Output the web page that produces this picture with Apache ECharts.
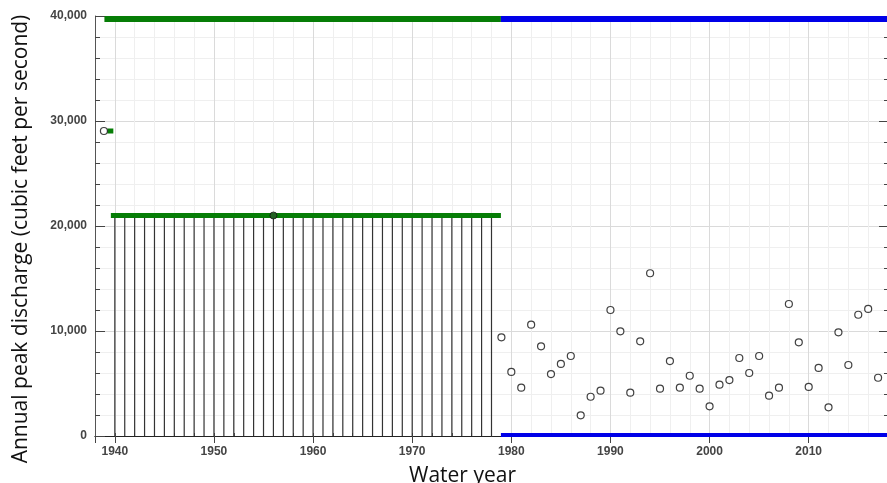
<!DOCTYPE html>
<html>
<head>
<meta charset="utf-8">
<script src="https://cdn.jsdelivr.net/npm/echarts@6/dist/echarts.min.js"></script>
<style>
  html, body { margin: 0; padding: 0; background: #fff; }
  #chart { width: 887px; height: 483px; }
</style>
</head>
<body>
<div id="chart"></div>
<script>
// years 1940-1978: peak known only to be below 21,000 cfs
var belowYears = [1940, 1941, 1942, 1943, 1944, 1945, 1946, 1947, 1948, 1949,
    1950, 1951, 1952, 1953, 1954, 1955, 1956, 1957, 1958, 1959,
    1960, 1961, 1962, 1963, 1964, 1965, 1966, 1967, 1968, 1969,
    1970, 1971, 1972, 1973, 1974, 1975, 1976, 1977, 1978];
var belowValue = 21000;

// measured annual peaks
var peakYears = [1979, 1980, 1981, 1982, 1983, 1984, 1985, 1986, 1987, 1988,
    1989, 1990, 1991, 1992, 1993, 1994, 1995, 1996, 1997, 1998,
    1999, 2000, 2001, 2002, 2003, 2004, 2005, 2006, 2007, 2008,
    2009, 2010, 2011, 2012, 2013, 2014, 2015, 2016, 2017];
var peakValues = [9400, 6100, 4600, 10600, 8540, 5900, 6860, 7620, 1970, 3740,
    4320, 12000, 9970, 4130, 9020, 15500, 4510, 7140, 4600, 5740,
    4510, 2830, 4890, 5330, 7430, 6000, 7620, 3840, 4600, 12570,
    8920, 4670, 6480, 2730, 9870, 6760, 11550, 12100, 5550];

// historic peaks
var historicPeaks = [[1938.9, 29050]];
var thresholdPeak = [[1956, 21000]];

// period bars: [start year, end year, value]
var greenSegments = [[1938.95, 1978.95, 39710], [1939.6, 1978.95, 21000], [1939.25, 1939.85, 29050]];
var blueSegments = [[1978.95, 2018, 39710], [1978.95, 2018, 100]];

var GREEN = '#067d06', BLUE = '#0000e8';
var labelFont = { fontFamily: 'Liberation Sans, Arial', fontWeight: 'bold', fontSize: 12, color: '#444' };

var series = [{
    type: 'bar',
    barWidth: 1.2,
    itemStyle: { color: '#333' },
    data: belowYears.map(function (y) { return [y, belowValue]; }),
    z: 2
}];
function addSegments(list, color) {
    list.forEach(function (s) {
        series.push({
            type: 'line',
            data: [[s[0], s[2]], [s[1], s[2]]],
            symbol: 'none',
            lineStyle: { color: color, width: s[2] > 30000 ? 6 : (s[2] < 1000 ? 4 : 5), cap: 'butt' },
            silent: true,
            z: 3
        });
    });
}
addSegments(greenSegments, GREEN);
addSegments(blueSegments, BLUE);
series.push({
    type: 'scatter',
    symbol: 'circle',
    symbolSize: 7,
    itemStyle: { color: '#fff', borderColor: '#111', borderWidth: 1.2 },
    data: peakYears.map(function (y, i) { return [y, peakValues[i]]; }).concat(historicPeaks),
    z: 5
}, {
    type: 'scatter',
    symbol: 'circle',
    symbolSize: 7,
    itemStyle: { color: '#2a5a2a', borderColor: '#111', borderWidth: 1 },
    data: thresholdPeak,
    z: 5
});

var chart = echarts.init(document.getElementById('chart'));
chart.setOption({
    animation: false,
    grid: { left: 95, top: 16, width: 793, height: 420, outerBoundsMode: 'none' },
    xAxis: [{
        type: 'value', position: 'bottom',
        min: 1938, max: 2018, interval: 2,
        name: 'Water year', nameLocation: 'middle', nameGap: 30,
        nameTextStyle: { fontFamily: 'Open Sans', fontSize: 21, color: '#111', padding: [0, 58, 0, 0] },
        axisLine: { lineStyle: { color: '#555' } },
        axisTick: { inside: true, length: 3, lineStyle: { color: '#555' } },
        axisLabel: Object.assign({ margin: 10, formatter: function (v) { return v % 10 === 0 ? String(v) : ''; } }, labelFont),
        splitLine: { lineStyle: { color: '#efefef' } }
    }, {
        type: 'value', position: 'top',
        min: 1938, max: 2018, splitNumber: 8,
        axisLine: { lineStyle: { color: '#222' } },
        axisTick: { inside: true, length: 7, lineStyle: { color: '#444' } },
        axisLabel: { show: false },
        splitLine: { lineStyle: { color: '#dadada' } }
    }],
    yAxis: [{
        type: 'value', position: 'left',
        min: 0, max: 40000, interval: 10000,
        name: 'Annual peak discharge (cubic feet per second)', nameLocation: 'middle', nameGap: 63,
        nameTextStyle: { fontFamily: 'Open Sans', fontSize: 21, color: '#111', padding: [0, 26, 0, 0] },
        axisLine: { show: true, lineStyle: { color: '#555' } },
        axisTick: { show: true, inside: true, length: 10, lineStyle: { color: '#444' } },
        minorTick: { show: true, splitNumber: 5, length: 5, lineStyle: { color: '#444' } },
        axisLabel: Object.assign({ margin: 8, formatter: function (v) { return v.toLocaleString('en-US'); } }, labelFont),
        splitLine: { lineStyle: { color: '#dadada' } },
        minorSplitLine: { show: true, lineStyle: { color: '#efefef' } }
    }, {
        type: 'value', position: 'right',
        min: 0, max: 40000, interval: 10000,
        axisLine: { show: true, lineStyle: { color: '#555' } },
        axisTick: { show: true, inside: true, length: 9, lineStyle: { color: '#444' } },
        minorTick: { show: true, splitNumber: 5, length: 4, lineStyle: { color: '#444' } },
        axisLabel: { show: false },
        splitLine: { show: false }
    }],
    series: series
});
window.addEventListener('resize', chart.resize);
</script>
</body>
</html>
